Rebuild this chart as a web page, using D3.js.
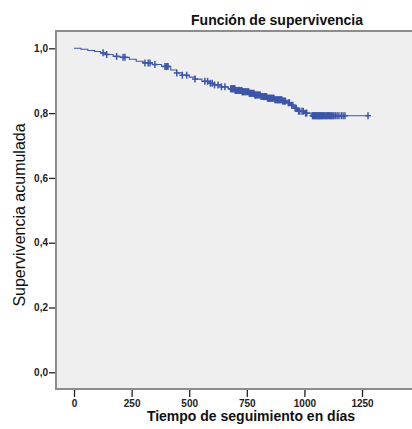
<!DOCTYPE html>
<html><head><meta charset="utf-8">
<script src="https://cdn.jsdelivr.net/npm/d3@7"></script>
<style>html,body{margin:0;padding:0;background:#fff;}svg{display:block;}</style>
</head><body>
<svg id="c" width="412" height="429"></svg>
<script>
// Kaplan-Meier step points: [day, cumulative survival after the event]
const stepTimes = [0,30,60,90,115,140,170,200,240,270,300,340,380,420,445,470,500,525,555,585,610,640,670,700,730,760,785,810,840,870,905,925,940,955,970,1000,1030];
const stepSurv  = [1.000,0.997,0.993,0.990,0.986,0.981,0.975,0.972,0.966,0.960,0.955,0.950,0.944,0.933,0.924,0.917,0.911,0.905,0.898,0.892,0.887,0.881,0.875,0.870,0.866,0.861,0.856,0.851,0.846,0.841,0.837,0.832,0.824,0.815,0.806,0.800,0.792];
const lastTime = 1276;
// Censored observations (days)
const censoredTimes = [126,142,185,213,221,308,322,330,351,395,400,404,408,446,470,489,525,568,580,592,600,610,625,640,655,
  680,684,687,690,693,695,698,700,703,705,708,712,715,718,721,725,728,730,733,735,738,742,745,750,754,758,761,765,768,770,774,778,781,785,788,790,794,797,801,805,808,812,816,820,823,826,829,832,836,840,843,846,849,852,855,858,861,865,868,872,876,880,884,888,891,895,898,902,906,910,914,918,
  930,935,945,950,960,965,975,980,990,995,1005,1010,
  1035,1038,1040,1043,1046,1049,1052,1055,1058,1061,1064,1067,1070,1073,1076,1079,1082,1086,1090,1094,1098,1101,1105,1108,1112,1116,1120,1124,1128,1135,1142,1150,1160,1168,1176,1276];
const xTicks = [0,250,500,750,1000,1250];
const yTicks = [0,0.2,0.4,0.6,0.8,1.0];
const title = "Función de supervivencia";
const xTitle = "Tiempo de seguimiento en días";
const yTitle = "Supervivencia acumulada";

const svg = d3.select("#c");
const font = "'Liberation Sans', Arial, sans-serif";
const plot = {left:56, top:31, right:520, bottom:389};
const x = d3.scaleLinear().domain([0,1250]).range([74,362]);
const y = d3.scaleLinear().domain([0,1]).range([372.3,48.3]);
const blue = "#3d56a8";

svg.append("rect").attr("x",plot.left).attr("y",plot.top)
  .attr("width",plot.right-plot.left).attr("height",plot.bottom-plot.top)
  .attr("fill","#efefef").attr("stroke","#8c8c8c").attr("stroke-width",2);

// y axis
const yAxis = d3.axisLeft(y).tickValues(yTicks).tickSize(6).tickPadding(1)
  .tickFormat(d => d3.format(".1f")(d).replace(".",","));
const gy = svg.append("g").attr("transform",`translate(${plot.left-1},0)`).call(yAxis);
gy.select(".domain").remove();
gy.selectAll(".tick line").attr("stroke","#222").attr("stroke-width",1.3);
gy.selectAll(".tick text").attr("font-family",font).attr("font-size",10).attr("font-weight","bold").attr("fill","#222");

// x axis
const xAxis = d3.axisBottom(x).tickValues(xTicks).tickSize(7).tickPadding(3).tickFormat(d3.format("d"));
const gx = svg.append("g").attr("transform",`translate(0,${plot.bottom+1})`).call(xAxis);
gx.select(".domain").remove();
gx.selectAll(".tick line").attr("stroke","#222").attr("stroke-width",1.3);
gx.selectAll(".tick text").attr("font-family",font).attr("font-size",10).attr("font-weight","bold").attr("fill","#222");

// survival curve
const pts = stepTimes.map((t,i)=>[t,stepSurv[i]]);
pts.push([lastTime, stepSurv[stepSurv.length-1]]);
const line = d3.line().x(d=>x(d[0])).y(d=>y(d[1])).curve(d3.curveStepAfter);
svg.append("path").datum(pts).attr("d",line).attr("fill","none")
  .attr("stroke",blue).attr("stroke-width",1.1);

function survAt(t){
  let s = 1;
  for (let i=0;i<stepTimes.length;i++){ if (stepTimes[i] <= t) s = stepSurv[i]; }
  return s;
}
const cg = svg.append("g");
censoredTimes.forEach(t=>{
  const cx = x(t), cy = y(survAt(t));
  cg.append("line").attr("x1",cx).attr("x2",cx).attr("y1",cy-3.5).attr("y2",cy+3.5)
    .attr("stroke",blue).attr("stroke-width",1.5);
  cg.append("line").attr("x1",cx-3).attr("x2",cx+3).attr("y1",cy).attr("y2",cy)
    .attr("stroke",blue).attr("stroke-width",1.5);
});

// titles
svg.append("text").attr("x",277).attr("y",25).attr("text-anchor","middle")
  .attr("font-family",font).attr("font-size",14).attr("font-weight","bold").attr("fill","#111").text(title);
svg.append("text").attr("x",251).attr("y",421).attr("text-anchor","middle")
  .attr("font-family",font).attr("font-size",14).attr("font-weight","bold").attr("fill","#111").text(xTitle);
svg.append("text").attr("transform","translate(25,215) rotate(-90)").attr("text-anchor","middle")
  .attr("font-family",font).attr("font-size",16).attr("fill","#111").text(yTitle);
</script>
</body></html>
